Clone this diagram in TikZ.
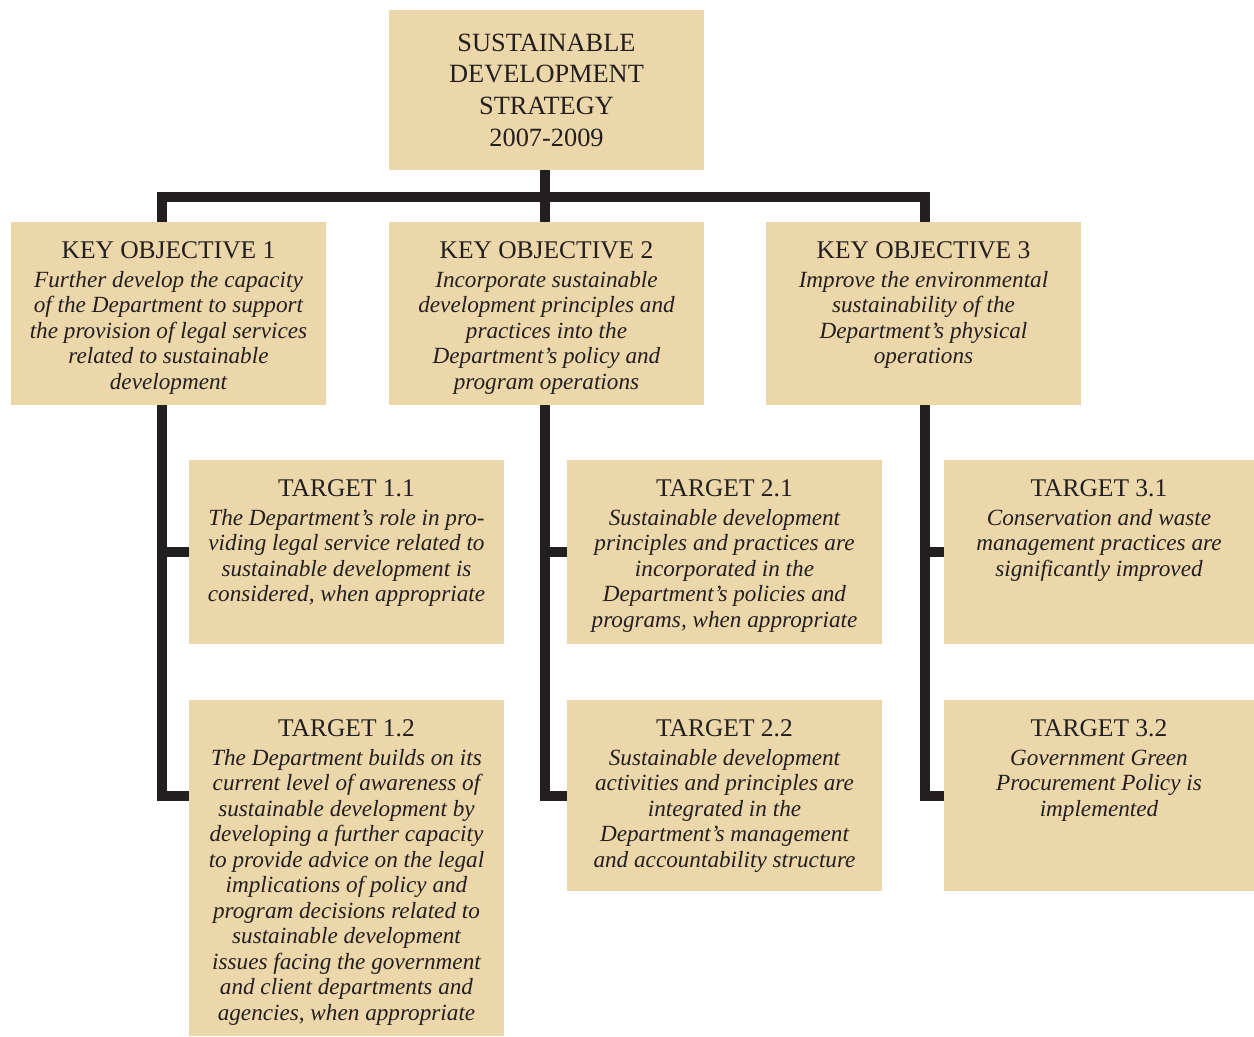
\documentclass[tikz,border=0pt]{standalone}
\usepackage{fontspec}
\setmainfont{Liberation Serif}
\usepackage{tikz}
\usetikzlibrary{calc}
\definecolor{boxtan}{RGB}{236,215,170}
\definecolor{linkdark}{RGB}{35,31,32}
\definecolor{textdark}{RGB}{35,31,32}
\newcommand{\boxtext}[3]{\parbox[c][#1][t]{6.1cm}{\centering\vspace*{1.5pt}
  {\fontsize{14.5}{17}\selectfont #2\par}\vspace{2pt}
  {\fontsize{13.2}{14.5}\selectfont\itshape #3\par}}}
\tikzset{
%%%%%%%%%%  Node styles
headbox/.style={fill=boxtan, text=textdark, inner sep=0pt, minimum width=6.3cm,
                minimum height=3.2cm, align=center, text width=6cm,
                font=\fontsize{15}{18}\selectfont},
objbox/.style={fill=boxtan, text=textdark, inner sep=0pt, minimum width=6.3cm,
               minimum height=3.66cm},
targetbox/.style={fill=boxtan, text=textdark, inner sep=0pt, minimum width=#1,
                  minimum height=3.68cm},
targetbox/.default=6.3cm,
%%%% line styles
link/.style={line width=2mm, draw=linkdark}
}

\begin{document}
\begin{tikzpicture}
\useasboundingbox (0,0) rectangle (25.08,-20.72);
%% strategy
\node[headbox] (sds) at (10.93,-1.8) {SUSTAINABLE\\DEVELOPMENT\\STRATEGY\\2007-2009};
%% key objectives
\node[objbox] (ko1) at (3.37,-6.27) {\boxtext{2.98cm}{KEY OBJECTIVE 1}{Further develop the capacity\\of the Department to support\\the provision of legal services\\related to sustainable\\development}};
\node[objbox] (ko2) at (10.93,-6.27) {\boxtext{2.98cm}{KEY OBJECTIVE 2}{Incorporate sustainable\\development principles and\\practices into the\\Department's policy and\\program operations}};
\node[objbox] (ko3) at (18.47,-6.27) {\boxtext{2.98cm}{KEY OBJECTIVE 3}{Improve the environmental\\sustainability of the\\Department's physical\\operations}};
%% targets, first row
\node[targetbox] (t11) at (6.93,-11.04) {\boxtext{3.0cm}{TARGET 1.1}{The Department's role in pro-\\viding legal service related to\\sustainable development is\\considered, when appropriate}};
\node[targetbox] (t21) at (14.49,-11.04) {\boxtext{3.0cm}{TARGET 2.1}{Sustainable development\\principles and practices are\\incorporated in the\\Department's policies and\\programs, when appropriate}};
\node[targetbox={6.2cm}] (t31) at (21.98,-11.04) {\boxtext{3.0cm}{TARGET 3.1}{Conservation and waste\\management practices are\\significantly improved}};
%% targets, second row
\node[targetbox, minimum height=6.72cm] (t12) at (6.93,-17.36) {\boxtext{6.04cm}{TARGET 1.2}{The Department builds on its\\current level of awareness of\\sustainable development by\\developing a further capacity\\to provide advice on the legal\\implications of policy and\\program decisions related to\\sustainable development\\issues facing the government\\and client departments and\\agencies, when appropriate}};
\node[targetbox, minimum height=3.82cm] (t22) at (14.49,-15.91) {\boxtext{3.14cm}{TARGET 2.2}{Sustainable development\\activities and principles are\\integrated in the\\Department's management\\and accountability structure}};
\node[targetbox={6.2cm}, minimum height=3.82cm] (t32) at (21.98,-15.91) {\boxtext{3.14cm}{TARGET 3.2}{Government Green\\Procurement Policy is\\implemented}};
%% bar under the strategy
\coordinate (bar) at (10.9,-3.94);
\coordinate (s1) at (3.24,-3.94);
\coordinate (s3) at (18.5,-3.94);
\draw[link] (sds.south -| bar) -- (bar);
\draw[link] (ko1.north -| s1) -- (s1) -- (s3) -- (ko3.north -| s3);
\draw[link] (bar) -- (ko2.north -| bar);
%% spines down to the targets
\draw[link] (ko1.south -| s1) |- (t12.west |- t22.west);
\draw[link] (s1 |- t11.west) -- (t11.west);
\draw[link] (ko2.south -| bar) |- (t22.west);
\draw[link] (bar |- t21.west) -- (t21.west);
\draw[link] (ko3.south -| s3) |- (t32.west);
\draw[link] (s3 |- t31.west) -- (t31.west);
\end{tikzpicture}
\end{document}
